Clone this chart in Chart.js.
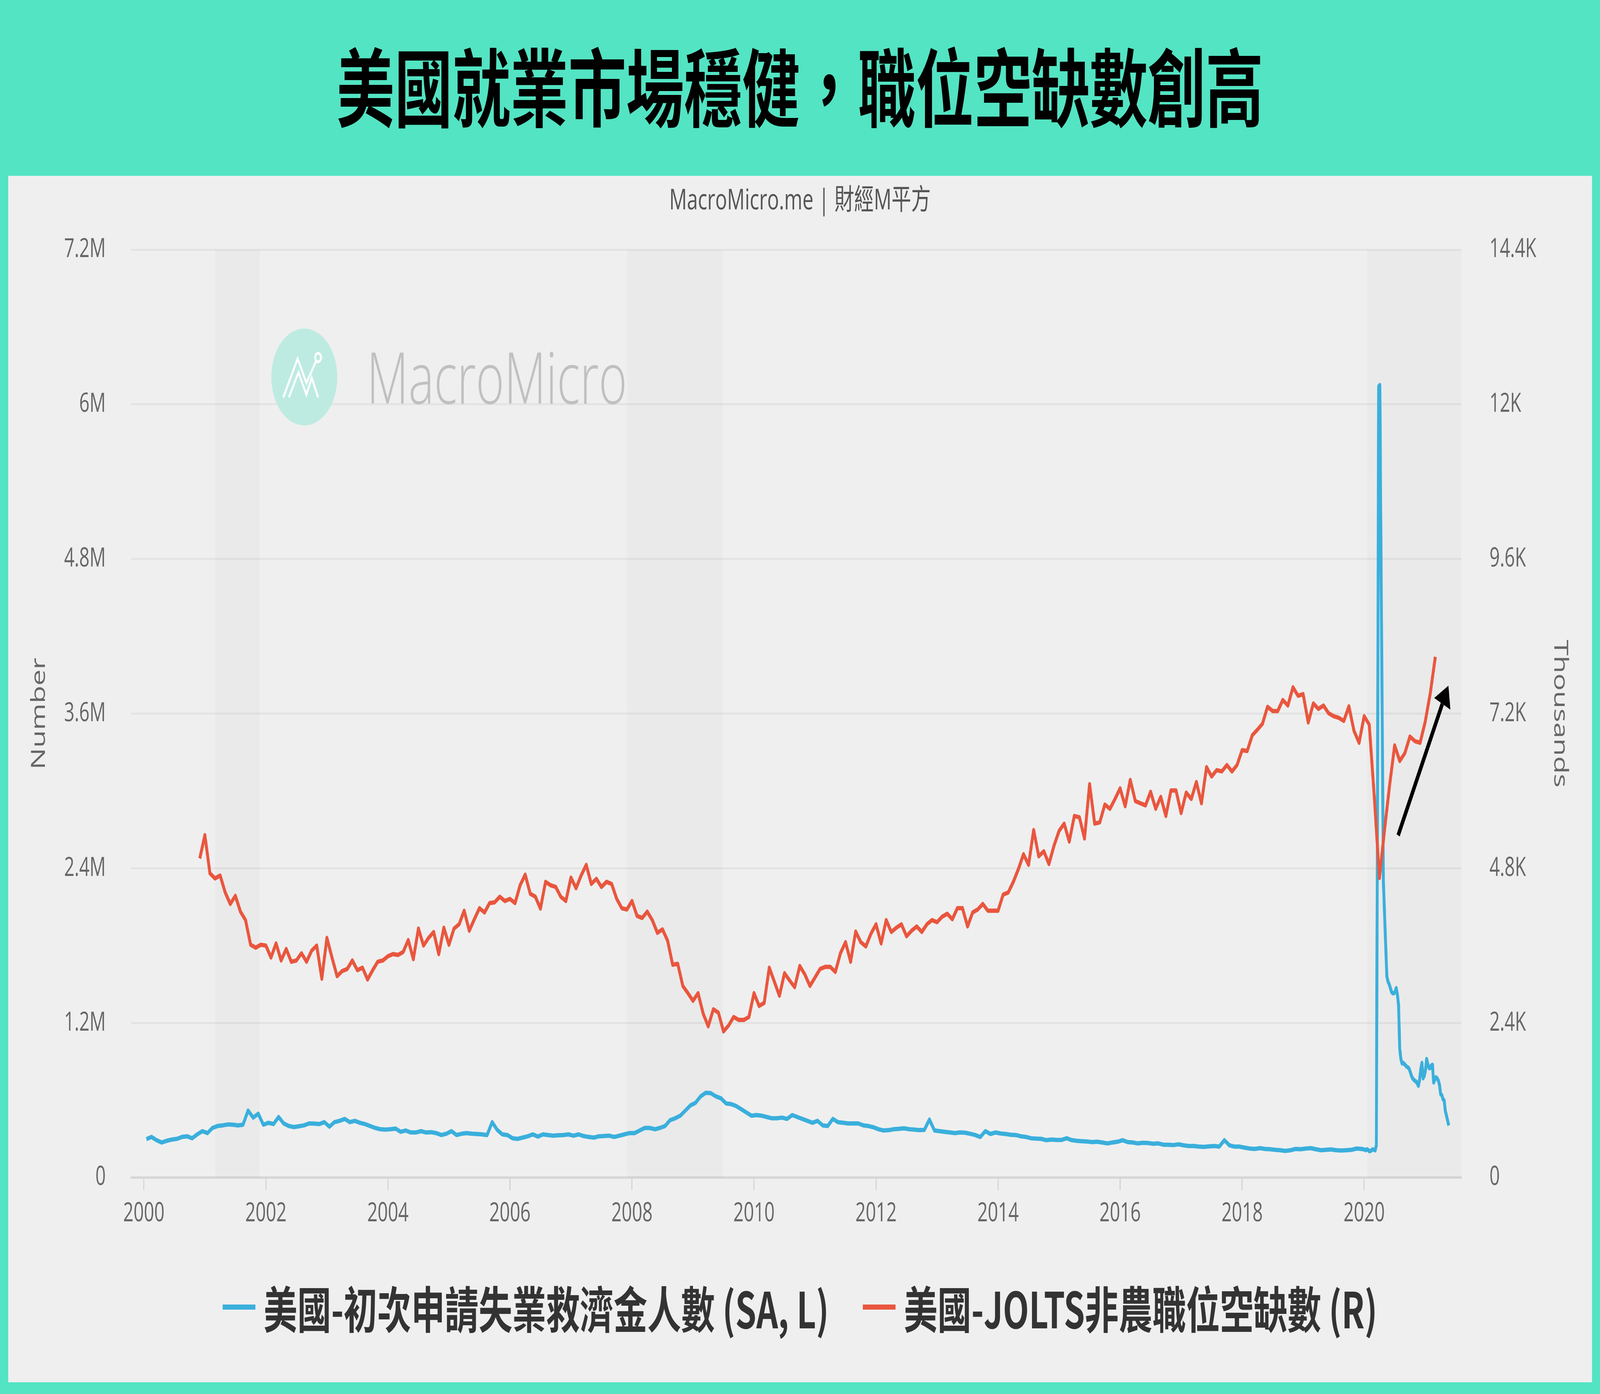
<!DOCTYPE html>
<html>
<head>
<meta charset="utf-8">
<script src="https://cdn.jsdelivr.net/npm/chart.js@4.4.1/dist/chart.umd.min.js"></script>
<style>
  html, body { margin: 0; padding: 0; width: 100%; height: 100%; overflow: hidden; background: #53e4c3; }
  #viewport { position: fixed; left: 0; top: 0; width: 100vw; height: 100vh; overflow: hidden; }
  #stage { position: absolute; left: 0; top: 0; width: 6021px; height: 3568px; transform-origin: 0 0;
           background: #53e4c3; overflow: hidden; font-family: 'Open Sans', 'Noto Sans CJK TC', sans-serif; }
  #title { position: absolute; left: 0; top: 104px; width: 6021px; text-align: center;
           font-family: 'Noto Sans CJK TC', sans-serif; font-weight: 700; font-size: 218px; line-height: 218px; color: #000; }
  #panel { position: absolute; left: 31px; top: 450px; width: 5960px; height: 3088px; background: #efefef; }
  #sub { position: absolute; left: 0; top: 466px; width: 6021px; text-align: center;
         font-size: 74px; line-height: 84px; color: #555; }
  #wrap { position: absolute; left: 0; top: 0; width: 6021px; height: 3568px; }
  #legend { position: absolute; left: 0; top: 3275px; width: 6021px; height: 140px;
            display: flex; justify-content: center; align-items: center;
            font-family: 'Noto Sans CJK TC', sans-serif; font-weight: 700; font-size: 127px; color: #333; }
  .item { display: flex; align-items: center; margin: 0 64px; }
  .swatch { width: 123px; height: 13px; margin-right: 31px; }
</style>
</head>
<body>
<div id="viewport">
<div id="stage">
  <div id="panel"></div>
  <div id="title">美國就業市場穩健，職位空缺數創高</div>
  <div id="sub">MacroMicro.me | 財經M平方</div>
  <div id="wrap"><canvas id="chart"></canvas></div>
  <div id="legend">
    <div class="item"><div class="swatch" style="background:#3aafdc"></div>美國-初次申請失業救濟金人數 (SA, L)</div>
    <div class="item"><div class="swatch" style="background:#e9563e"></div>美國-JOLTS非農職位空缺數 (R)</div>
  </div>
</div>
</div>
<script>
// initial jobless claims (thousands), monthly level 2000-2019
const claimsMonthly = [
  298, 315, 290, 272, 285, 295, 300, 315, 320, 305, 335, 360,
  345, 385, 400, 405, 412, 410, 405, 410, 520, 465, 495, 410,
  425, 415, 470, 420, 400, 392, 398, 405, 420, 418, 415, 430,
  395, 430, 440, 455, 430, 440, 425, 415, 400, 385, 375, 372,
  375, 380, 355, 365, 350, 350, 360, 350, 352, 345, 330, 340,
  360, 330, 340, 345, 340, 338, 335, 330, 430, 370, 335, 330,
  305, 300, 310, 320, 335, 318, 335, 330, 325, 328, 330, 335,
  325, 335, 322, 315, 310, 320, 322, 325, 315, 325, 335, 345,
  345, 365, 385, 385, 375, 385, 400, 445, 460, 480, 520, 560,
  580, 630, 658, 655, 630, 615, 575, 570, 555, 530, 505, 480,
  485, 480, 470, 460, 460, 465, 455, 485, 470, 455, 440, 425,
  440, 405, 400, 455, 430, 425, 420, 420, 420, 405, 400, 390,
  375, 365, 368, 375, 378, 382, 375, 372, 368, 370, 450, 365,
  360, 355, 350, 345, 350, 348, 340, 330, 315, 360, 338, 350,
  342, 338, 332, 330, 320, 315, 305, 302, 300, 290, 295, 292,
  292, 305, 290, 285, 282, 280, 275, 278, 272, 265, 272, 278,
  290, 275, 272, 265, 270, 268, 262, 265, 255, 255, 252, 258,
  250, 245, 245, 240, 238, 242, 245, 240, 290, 250, 240, 240,
  232, 225, 222, 228, 222, 220, 215, 212, 207, 212, 222, 220,
  225, 228, 220, 212, 215, 218, 212, 210, 212, 215, 225, 222
];

// weekly claims (thousands) from the week of 2020-01-04
const claimsWeekly = [
  217, 212, 220, 214, 205, 206, 213, 219, 216, 211,
  250, 2900, 6140, 6150, 4800, 3600, 2300, 2050, 1800, 1560,
  1520, 1500, 1470, 1440, 1430, 1430, 1440, 1470, 1420, 1340,
  1000, 920, 885, 890, 880, 870, 860, 855, 845, 820,
  790, 770, 760, 750, 745, 730, 712, 760, 840, 890,
  770, 790, 830, 920, 880, 850, 849, 870, 875, 738,
  760, 778, 770, 753, 720, 647, 640, 607, 600, 516,
  480, 440, 404
];
const claimsWeeklyStart = 2020.008;

// JOLTS job openings (thousands), monthly from Dec 2000
const joltsOpenings = [
  4952,
  5314, 4721, 4642, 4688, 4424, 4246, 4371, 4127, 3995, 3613, 3567, 3613,
  3600, 3415, 3633, 3369, 3547, 3349, 3369, 3481, 3349, 3521, 3600, 3086,
  3719, 3415, 3125, 3204, 3237, 3369, 3218, 3257, 3073, 3218, 3349, 3369,
  3435, 3468, 3455, 3501, 3686, 3389, 3864, 3600, 3719, 3811, 3468, 3877,
  3613, 3864, 3930, 4141, 3831, 4009, 4180, 4114, 4259, 4272, 4358, 4292,
  4325, 4259, 4536, 4701, 4404, 4358, 4174, 4589, 4536, 4510, 4358, 4292,
  4655, 4490, 4688, 4853, 4556, 4635, 4510, 4589, 4556, 4325, 4180, 4160,
  4292, 4061, 4028, 4127, 3995, 3798, 3851, 3679, 3303, 3316, 2974, 2862,
  2743, 2862, 2545, 2347, 2611, 2558, 2268, 2360, 2492, 2446, 2446, 2492,
  2862, 2664, 2710, 3257, 3040, 2822, 3172, 3059, 2954, 3284, 3152, 2974,
  3105, 3237, 3270, 3270, 3191, 3481, 3653, 3349, 3818, 3653, 3587, 3785,
  3930, 3633, 3996, 3811, 3877, 3930, 3745, 3831, 3897, 3811, 3930, 3996,
  3963, 4048, 4094, 4009, 4180, 4180, 3897, 4114, 4160, 4246, 4141, 4141,
  4141, 4391, 4424, 4589, 4787, 5018, 4853, 5393, 4985, 5064, 4866, 5149,
  5380, 5492, 5215, 5611, 5591, 5262, 6105, 5492, 5512, 5789, 5723, 5875,
  6040, 5763, 6171, 5842, 5809, 5776, 5987, 5723, 5908, 5611, 6007, 6007,
  5657, 5974, 5875, 6138, 5809, 6369, 6224, 6323, 6303, 6402, 6303, 6402,
  6633, 6620, 6864, 6950, 7042, 7306, 7240, 7240, 7411, 7325, 7609, 7477,
  7503, 7062, 7358, 7273, 7325, 7207, 7160, 7135, 7087, 7313, 6933, 6747,
  7160, 7030, 5900, 4650, 5390, 6085, 6707, 6465, 6586, 6844, 6772, 6747,
  7070, 7515, 8081
];
const joltsStart = 2000 + 11 / 12;

const yearTicks = [2000, 2002, 2004, 2006, 2008, 2010, 2012, 2014, 2016, 2018, 2020];
const leftTicks = [0, 1200, 2400, 3600, 4800, 6000, 7200];
const leftTickLabels = ['0', '1.2M', '2.4M', '3.6M', '4.8M', '6M', '7.2M'];
const rightTicks = [0, 2400, 4800, 7200, 9600, 12000, 14400];
const rightTickLabels = ['0', '2.4K', '4.8K', '7.2K', '9.6K', '12K', '14.4K'];

// shaded recessions (decimal years)
const recessionStart = [2001.17, 2007.92, 2020.05];
const recessionEnd = [2001.90, 2009.49, 2021.592];

// annotation arrow, in (year, right-axis value)
const arrowFrom = [2020.557, 5311];
const arrowTo = [2021.381, 7634];

const xMin = 1999.794, xMax = 2021.592;

// the page is laid out at 6021 x 3568 and stretched to fill the window
const stage = document.getElementById('stage');
stage.style.transform = 'scale(' + (window.innerWidth / 6021) + ',' + (window.innerHeight / 3568) + ')';

const claimsPoints = claimsMonthly.map((v, i) => ({ x: 2000 + (i + 0.5) / 12, y: v }))
  .concat(claimsWeekly.map((v, i) => ({ x: claimsWeeklyStart + i * 7 / 365.25, y: v })));
const joltsPoints = joltsOpenings.map((v, i) => ({ x: joltsStart + i / 12, y: v }));

const decorations = {
  id: 'decorations',
  beforeDatasetsDraw(chart) {
    const { ctx, chartArea: a, scales: { x } } = chart;
    ctx.save();
    ctx.fillStyle = 'rgba(0,0,0,0.02)';
    recessionStart.forEach((s, i) => {
      const x0 = x.getPixelForValue(s);
      const x1 = x.getPixelForValue(recessionEnd[i]);
      ctx.fillRect(x0, a.top, x1 - x0, a.bottom - a.top);
    });

    // MacroMicro watermark
    const cx = 1145, cy = 965, r = 124;
    ctx.fillStyle = '#bdebe1';
    ctx.beginPath();
    ctx.arc(cx, cy, r, 0, Math.PI * 2);
    ctx.fill();
    ctx.strokeStyle = '#ffffff';
    ctx.lineWidth = 7;
    ctx.beginPath();
    ctx.moveTo(cx - 79, cy + 52);
    ctx.lineTo(cx - 25, cy - 47);
    ctx.lineTo(cx + 8, cy + 15);
    ctx.lineTo(cx + 44, cy - 40);
    ctx.stroke();
    ctx.beginPath();
    ctx.moveTo(cx - 58, cy + 52);
    ctx.lineTo(cx - 22, cy - 12);
    ctx.lineTo(cx + 8, cy + 45);
    ctx.lineTo(cx + 28, cy + 2);
    ctx.lineTo(cx + 52, cy + 52);
    ctx.stroke();
    ctx.beginPath();
    ctx.arc(cx + 52, cy - 50, 11, 0, Math.PI * 2);
    ctx.stroke();
    ctx.fillStyle = '#c0c0c0';
    ctx.font = "300 182px 'Open Sans', sans-serif";
    ctx.textBaseline = 'alphabetic';
    ctx.textAlign = 'left';
    ctx.fillText('MacroMicro', 1380, 1033);
    ctx.restore();
  },
  afterDatasetsDraw(chart) {
    const { ctx, scales: { x, yR } } = chart;
    const x0 = x.getPixelForValue(arrowFrom[0]), y0 = yR.getPixelForValue(arrowFrom[1]);
    const x1 = x.getPixelForValue(arrowTo[0]), y1 = yR.getPixelForValue(arrowTo[1]);
    const ang = Math.atan2(y1 - y0, x1 - x0);
    const headLen = 52, headW = 34;
    const bx = x1 - headLen * Math.cos(ang), by = y1 - headLen * Math.sin(ang);
    ctx.save();
    ctx.strokeStyle = '#000';
    ctx.fillStyle = '#000';
    ctx.lineWidth = 13;
    ctx.beginPath();
    ctx.moveTo(x0, y0);
    ctx.lineTo(bx, by);
    ctx.stroke();
    ctx.beginPath();
    ctx.moveTo(x1, y1);
    ctx.lineTo(bx + headW * Math.sin(ang), by - headW * Math.cos(ang));
    ctx.lineTo(bx - headW * Math.sin(ang), by + headW * Math.cos(ang));
    ctx.closePath();
    ctx.fill();
    ctx.restore();
  }
};

Chart.defaults.font.family = "'Open Sans', 'Noto Sans CJK TC', sans-serif";
Chart.defaults.color = '#666';

const plotTop = 639, plotBottom = 3014, plotLeft = 494, plotRight = 5499;

new Chart(document.getElementById('chart'), {
  type: 'line',
  data: {
    datasets: [
      {
        label: '美國-初次申請失業救濟金人數 (SA, L)',
        data: claimsPoints,
        yAxisID: 'yL',
        borderColor: '#3aafdc',
        borderWidth: 11,
        pointRadius: 0,
        tension: 0,
        borderJoinStyle: 'round',
        order: 1
      },
      {
        label: '美國-JOLTS非農職位空缺數 (R)',
        data: joltsPoints,
        yAxisID: 'yR',
        borderColor: '#e9563e',
        borderWidth: 11,
        pointRadius: 0,
        tension: 0,
        borderJoinStyle: 'round',
        order: 0
      }
    ]
  },
  options: {
    responsive: true,
    maintainAspectRatio: false,
    devicePixelRatio: 1,
    animation: false,
    layout: { padding: { top: plotTop, left: 0, right: 0, bottom: 0 } },
    plugins: { legend: { display: false }, tooltip: { enabled: false } },
    scales: {
      x: {
        type: 'linear',
        min: xMin,
        max: xMax,
        afterBuildTicks: (s) => { s.ticks = yearTicks.map((v) => ({ value: v })); },
        afterFit: (s) => { s.height = 3568 - plotBottom; },
        ticks: { callback: (v) => String(v), font: { size: 68 }, color: '#666', padding: 20, maxRotation: 0, autoSkip: false },
        grid: { drawOnChartArea: false, drawTicks: true, tickLength: 32, color: '#d2d2d2', lineWidth: 4 },
        border: { display: true, color: '#d6d6d6', width: 6 }
      },
      yL: {
        position: 'left',
        min: 0,
        max: 7200,
        afterBuildTicks: (s) => { s.ticks = leftTicks.map((v) => ({ value: v })); },
        afterFit: (s) => { s.width = plotLeft; },
        ticks: { callback: (v) => leftTickLabels[leftTicks.indexOf(v)], font: { size: 68 }, color: '#666', padding: 96 },
        grid: { color: '#e3e3e3', lineWidth: 5, drawTicks: false },
        border: { display: false },
        title: { display: true, text: 'Number', color: '#666', font: { size: 74 }, padding: { top: 104, bottom: 0 } }
      },
      yR: {
        position: 'right',
        min: 0,
        max: 14400,
        afterBuildTicks: (s) => { s.ticks = rightTicks.map((v) => ({ value: v })); },
        afterFit: (s) => { s.width = 6021 - plotRight; },
        ticks: { callback: (v) => rightTickLabels[rightTicks.indexOf(v)], font: { size: 68 }, color: '#666', padding: 98 },
        grid: { display: false },
        border: { display: false },
        title: { display: true, text: 'Thousands', color: '#666', font: { size: 74 }, padding: { top: 107, bottom: 0 } }
      }
    }
  },
  plugins: [decorations]
});
</script>
</body>
</html>
